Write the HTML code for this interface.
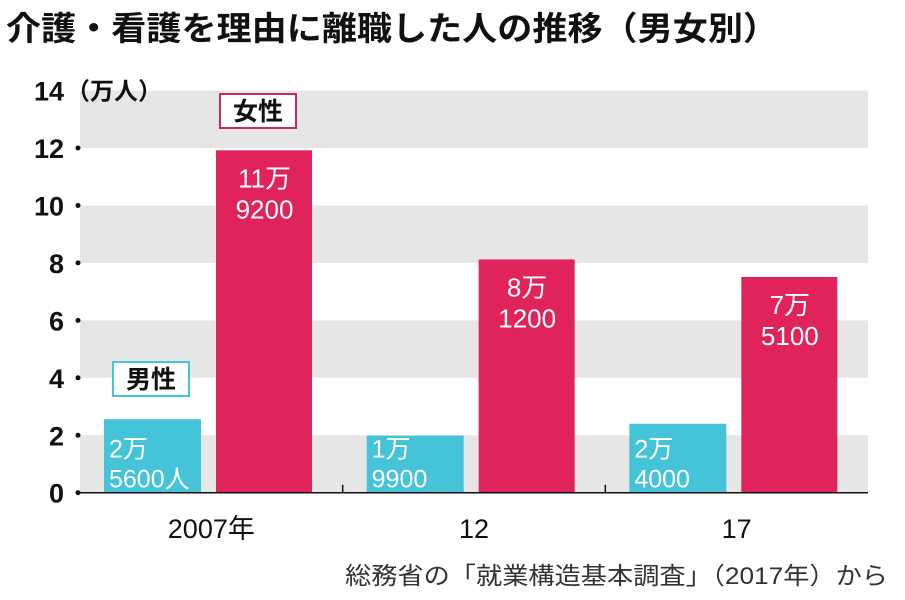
<!DOCTYPE html>
<html><head><meta charset="utf-8"><style>
body{margin:0;background:#fff;width:905px;height:595px;overflow:hidden;font-family:"Liberation Sans","Noto Sans CJK JP",sans-serif}
</style></head><body>
<svg width="905" height="595" xmlns="http://www.w3.org/2000/svg">
<text x="6" y="40" font-size="33" font-weight="bold" fill="#111" textLength="772" lengthAdjust="spacingAndGlyphs" font-family="Liberation Sans,Noto Sans CJK JP,sans-serif">介護・看護を理由に離職した人の推移（男女別）</text>
<g id="bands"></g><g id="yaxis"></g><g id="bars"></g><g id="xaxis"></g>
<text x="345" y="584" font-size="24" fill="#333" textLength="543" lengthAdjust="spacingAndGlyphs" font-family="Liberation Sans,Noto Sans CJK JP,sans-serif">総務省の「就業構造基本調査」（2017年）から</text>
</svg>
<script>
const categories=["2007年","12","17"];
const maleValues=[2.56,1.99,2.40];
const femaleValues=[11.92,8.12,7.51];
const maleLabels=[["2万","5600人"],["1万","9900"],["2万","4000"]];
const femaleLabels=[["11万","9200"],["8万","1200"],["7万","5100"]];
const yTicks=[0,2,4,6,8,10,12,14];
const NS="http://www.w3.org/2000/svg";
const F='Liberation Sans,Noto Sans CJK JP,sans-serif';
const x0=80,x1=868,yBase=492.7,unit=(492.7-148)/12;
const y=v=>yBase-v*unit;
const gw=(x1-x0)/3;
function el(t,a,p){const e=document.createElementNS(NS,t);for(const k in a)e.setAttribute(k,a[k]);p.appendChild(e);return e;}
const bands=document.getElementById('bands'),ya=document.getElementById('yaxis'),bars=document.getElementById('bars'),xa=document.getElementById('xaxis');
for(let i=0;i<yTicks.length-1;i+=2){
 const r=el('rect',{x:x0,y:y(yTicks[i+1]),width:x1-x0,height:y(yTicks[i])-y(yTicks[i+1]),fill:'#e6e6e6'},bands);
 
 
}
yTicks.forEach(t=>{
 const tx=el('text',{x:64,y:y(t)+10,'font-size':27,'font-weight':'bold','text-anchor':'end',fill:'#111','font-family':F},ya);
 tx.textContent=t;
 
 
 if(t<14){const d=el('circle',{cx:78,cy:y(t),r:2.5,fill:'#111'},ya);
 
 }
});
const u=el('text',{x:66,y:y(14)+9,'font-size':24,'font-weight':'bold',fill:'#111','font-family':F},ya);
u.textContent='（万人）';


const offM=24,offF=136,bw=97;
categories.forEach((c,i)=>{
 const gx=x0+i*gw;
 const mx=gx+offM,fx=gx+offF;
 const mb=el('rect',{x:mx,y:y(maleValues[i]),width:bw,height:yBase-y(maleValues[i]),fill:'#45c3d8'},bars);
 
 
 const fb=el('rect',{x:fx,y:y(femaleValues[i]),width:bw-1,height:yBase-y(femaleValues[i]),fill:'#e0245b'},bars);
 
 
 maleLabels[i].forEach((s,j)=>{
  const t=el('text',{x:mx+5,y:yBase-35+j*30,'font-size':25,fill:'#fff','font-family':F},bars);
  t.textContent=s;
  
  
 });
 femaleLabels[i].forEach((s,j)=>{
  const t=el('text',{x:fx+bw/2,y:y(femaleValues[i])+37+j*31,'font-size':26,'text-anchor':'middle',fill:'#fff','font-family':F},bars);
  t.textContent=s;
  
  
 });
 const xl=el('text',{x:gx+gw/2,y:538,'font-size':27,'text-anchor':'middle',fill:'#111','font-family':F},xa);
 xl.textContent=c;
 
 
 if(i>0){const tk=el('line',{x1:gx,x2:gx,y1:yBase-8,y2:yBase,stroke:'#111','stroke-width':1.5},xa);
 
 }
});
const ax=el('line',{x1:x0,x2:x1,y1:yBase,y2:yBase,stroke:'#111','stroke-width':1.5},xa);


function legend(x,yy,w,col,txt,name){
 const g=el('g',{},bars);
 
 
 el('rect',{x:x,y:yy,width:w,height:34,fill:'#fff',stroke:col,'stroke-width':2},g);
 const t=el('text',{x:x+w/2,y:yy+26,'font-size':25,'font-weight':'bold','text-anchor':'middle',fill:'#111','font-family':F},g);
 t.textContent=txt;
}
legend(113,362,76,'#45c3d8','男性','legend-male');
legend(220,94,76,'#c0305a','女性','legend-female');
</script>
</body></html>
